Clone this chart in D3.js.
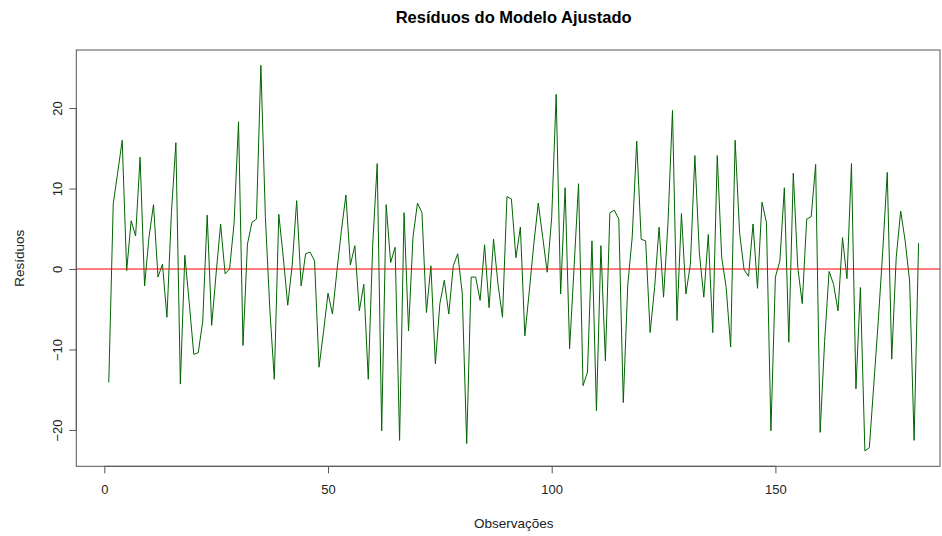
<!DOCTYPE html>
<html>
<head>
<meta charset="utf-8">
<script src="https://cdn.jsdelivr.net/npm/d3@7/dist/d3.min.js"></script>
<style>
  html, body { margin: 0; padding: 0; background: #fff; }
  svg { display: block; font-family: "Liberation Sans", Arial, sans-serif; }
</style>
</head>
<body>
<svg id="chart" width="942" height="536"></svg>
<script>
// Residuals of the fitted model, one per observation (index 1..n)
const residuos = [
  -14.1, 8.1, 12.0, 16.0, -0.2, 6.0, 4.1, 13.9, -2.1, 4.0,
  8.0, -1.0, 0.6, -6.0, 7.0, 15.7, -14.3, 1.7, -4.3, -10.6,
  -10.4, -6.5, 6.7, -7.0, -0.5, 5.6, -0.6, 0.0, 5.6, 18.3,
  -9.5, 3.1, 5.8, 6.2, 25.3, 6.5, -5.0, -13.7, 6.8, 1.5,
  -4.5, 0.5, 8.5, -2.1, 1.9, 2.1, 1.0, -12.2, -7.8, -3.0,
  -5.6, -0.2, 4.8, 9.2, 0.5, 2.9, -5.2, -1.9, -13.7, 3.1,
  13.1, -20.1, 8.0, 0.8, 2.7, -21.3, 7.0, -7.7, 4.0, 8.2,
  7.0, -5.4, 0.4, -11.8, -4.3, -1.4, -5.6, 0.4, 1.9, -3.0,
  -21.7, -1.0, -1.0, -3.9, 3.0, -4.8, 3.7, -1.9, -6.0, 9.0,
  8.7, 1.4, 5.2, -8.3, -2.7, 3.1, 8.2, 3.9, -0.4, 6.4,
  21.7, -3.1, 10.1, -9.9, 0.2, 10.6, -14.5, -12.8, 3.5, -17.6,
  2.9, -11.4, 7.0, 7.3, 6.2, -16.6, -2.0, 4.0, 15.9, 3.7,
  3.5, -7.9, -2.3, 5.2, -3.5, 5.8, 19.7, -6.4, 6.9, -3.1,
  0.6, 14.1, 2.0, -3.5, 4.3, -7.9, 14.1, 1.4, -2.3, -9.7,
  16.0, 4.5, -0.1, -0.9, 5.6, -2.4, 8.3, 5.8, -20.1, -1.0,
  1.0, 10.1, -9.1, 11.9, 0.2, -4.3, 6.2, 6.5, 13.0, -20.3,
  -9.0, -0.3, -1.9, -5.2, 3.9, -1.2, 13.1, -14.9, -2.3, -22.6,
  -22.2, -14.3, -6.4, 2.3, 12.0, -11.2, 1.4, 7.2, 3.5, -1.5,
  -21.3, 3.2
];
const xTicks = [0, 50, 100, 150];
const yTicks = [-20, -10, 0, 10, 20];

const titulo = "Resíduos do Modelo Ajustado";
const rotuloX = "Observações";
const rotuloY = "Resíduos";

const svg = d3.select("#chart");
const plot = { left: 76.3, right: 940, top: 50, bottom: 466.3 };
const fonte = "Liberation Sans, Arial, sans-serif";

const obs = residuos.map((r, i) => ({ i: i + 1, r }));

// x limits follow the device: index 0 sits at 104.3 px, 4.474 px per step
const x = d3.scaleLinear()
  .domain([(plot.left - 104.3) / 4.474, (plot.right - 104.3) / 4.474])
  .range([plot.left, plot.right]);

// y limits: data range padded by 4% on each side
const ext = d3.extent(residuos);
const pad = (ext[1] - ext[0]) * 0.04;
const y = d3.scaleLinear()
  .domain([ext[0] - pad, ext[1] + pad])
  .range([plot.bottom, plot.top]);

svg.append("clipPath").attr("id", "plotclip")
  .append("rect")
  .attr("x", plot.left).attr("y", plot.top)
  .attr("width", plot.right - plot.left)
  .attr("height", plot.bottom - plot.top);

// residual series
const line = d3.line().x(d => x(d.i)).y(d => y(d.r));
svg.append("path")
  .datum(obs)
  .attr("clip-path", "url(#plotclip)")
  .attr("fill", "none")
  .attr("stroke", "#006400")
  .attr("stroke-width", 1)
  .attr("d", line);

// reference line at zero
svg.append("line")
  .attr("x1", plot.left).attr("x2", plot.right)
  .attr("y1", y(0)).attr("y2", y(0))
  .attr("stroke", "#ff0000")
  .attr("stroke-width", 1);

// frame
svg.append("rect")
  .attr("x", plot.left).attr("y", plot.top)
  .attr("width", plot.right - plot.left)
  .attr("height", plot.bottom - plot.top)
  .attr("fill", "none")
  .attr("stroke", "#555")
  .attr("stroke-width", 1);

// x axis
const xAxis = d3.axisBottom(x).tickValues(xTicks).tickSize(7).tickPadding(11)
  .tickFormat(d3.format("d"));
const gx = svg.append("g")
  .attr("transform", `translate(0,${plot.bottom})`)
  .call(xAxis);
gx.select(".domain").attr("d", `M${x(xTicks[0])},0H${x(xTicks[xTicks.length - 1])}`)
  .attr("stroke", "#555");
gx.selectAll(".tick line").attr("stroke", "#555");
gx.selectAll(".tick text").attr("font-size", 13).attr("fill", "#222")
  .attr("font-family", fonte);

// y axis with rotated labels
const yAxis = d3.axisLeft(y).tickValues(yTicks).tickSize(7).tickFormat(d3.format("d"));
const gy = svg.append("g")
  .attr("transform", `translate(${plot.left},0)`)
  .call(yAxis);
gy.select(".domain").attr("d", `M0,${y(yTicks[0])}V${y(yTicks[yTicks.length - 1])}`)
  .attr("stroke", "#555");
gy.selectAll(".tick line").attr("stroke", "#555");
gy.selectAll(".tick text")
  .attr("font-size", 13).attr("fill", "#222")
  .attr("font-family", fonte)
  .attr("x", null).attr("dy", null)
  .attr("text-anchor", "middle")
  .attr("transform", "translate(-19,0) rotate(-90)")
  .attr("dominant-baseline", "central");

// title and axis titles
svg.append("text")
  .attr("x", (plot.left + 951) / 2).attr("y", 23)
  .attr("text-anchor", "middle")
  .attr("font-size", 16.5).attr("font-weight", "bold").attr("fill", "#000")
  .text(titulo);

svg.append("text")
  .attr("x", (plot.left + 951) / 2).attr("y", 528)
  .attr("text-anchor", "middle")
  .attr("font-size", 13.5).attr("fill", "#222")
  .text(rotuloX);

svg.append("text")
  .attr("transform", `translate(24,${(plot.top + plot.bottom) / 2}) rotate(-90)`)
  .attr("text-anchor", "middle")
  .attr("font-size", 13.5).attr("fill", "#222")
  .text(rotuloY);
</script>
</body>
</html>
